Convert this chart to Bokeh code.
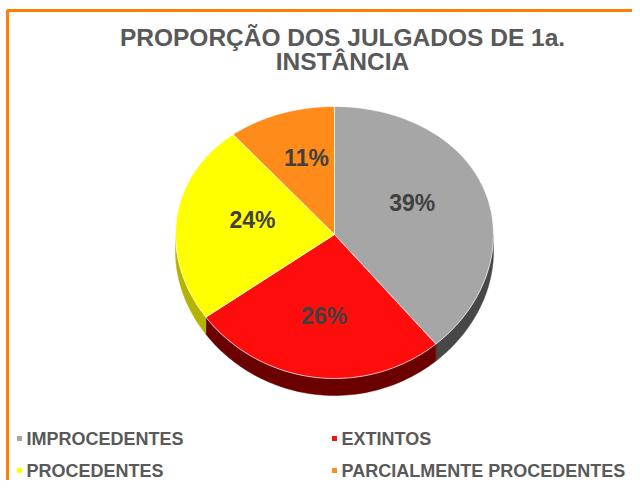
import numpy as np
from bokeh.plotting import figure
from bokeh.models import Range1d, ColumnDataSource
from bokeh.core.properties import value
from bokeh.embed import file_html
from bokeh.resources import INLINE

# ---- data ----
categories = ["IMPROCEDENTES", "EXTINTOS", "PROCEDENTES", "PARCIALMENTE PROCEDENTES"]
shares = [39, 26, 24, 11]
labels = ["39%", "26%", "24%", "11%"]
top_colors = ["#A6A6A6", "#FF0D0D", "#FFFF00", "#FF8C1A"]
side_colors = ["#474747", "#6A0000", "#B3B300", "#B35F00"]
title_lines = ["PROPORÇÃO DOS JULGADOS DE 1a.", "INSTÂNCIA"]

W, H = 632, 480
p = figure(width=W, height=H, x_range=Range1d(0, W), y_range=Range1d(H, 0),
           output_backend="svg", toolbar_location=None, min_border=0,
           x_axis_type=None, y_axis_type=None)
p.grid.visible = False
p.outline_line_color = None
p.background_fill_color = "white"
p.border_fill_color = "white"

# chart frame (top and left edges visible)
p.line([7, 7, W], [H, 10, 10], line_color="#FF8000", line_width=3)

# ---- pie geometry (pseudo 3D) ----
cx, cy = 334, 234
rx, ry, persp, depth = 159, 136, 8, 17


def pt(theta_deg, s=1.0):
    t = np.radians(theta_deg)
    x = cx + rx * s * np.sin(t)
    y = cy - s * (ry * np.cos(t) - persp * np.cos(t) ** 2)
    return x, y


total = float(sum(shares))
bounds = np.concatenate([[0], np.cumsum(shares)]) / total * 360.0

side_xs, side_ys, side_c = [], [], []
top_xs, top_ys = [], []
for i in range(len(shares)):
    a1, a2 = bounds[i], bounds[i + 1]
    # side (front half only: 90..270 deg clockwise from top)
    s1, s2 = max(a1, 90.0), min(a2, 270.0)
    if s2 > s1:
        th = np.linspace(s1, s2, 80)
        x, y = pt(th)
        side_xs.append(list(np.concatenate([x, x[::-1]])))
        side_ys.append(list(np.concatenate([y, (y + depth)[::-1]])))
        side_c.append(side_colors[i])
    th = np.linspace(a1, a2, 150)
    x, y = pt(th)
    top_xs.append([cx] + list(x))
    top_ys.append([cy] + list(y))

p.patches(xs="xs", ys="ys", fill_color="c", line_color="c", line_width=0.5,
          source=ColumnDataSource(dict(xs=side_xs, ys=side_ys, c=side_c)))
p.patches(xs="xs", ys="ys", fill_color="c", line_color="white", line_alpha=0.7,
          line_width=1,
          source=ColumnDataSource(dict(xs=top_xs, ys=top_ys, c=top_colors)))

# data labels
mids = (bounds[:-1] + bounds[1:]) / 2
lx = cx + rx * 0.52 * np.sin(np.radians(mids))
ly = cy - 0.6 * (ry * np.cos(np.radians(mids)) - persp * np.cos(np.radians(mids)) ** 2) - 4
p.text(x=list(lx), y=list(ly), text=labels, text_font=value("Liberation Sans"),
       text_font_style="bold", text_font_size="23px", text_color="#404040",
       text_align="center", text_baseline="middle")

# title
p.text(x=[342, 342], y=[37, 61], text=title_lines, text_font=value("Liberation Sans"),
       text_font_style="bold", text_font_size="24.5px", text_color="#595959",
       text_align="center", text_baseline="middle")

# legend (2 columns)
col_x = [19, 334]
row_y = [438, 470]
mx = [col_x[i % 2] for i in range(len(categories))]
my = [row_y[i // 2] for i in range(len(categories))]
p.rect(x=mx, y=my, width=5, height=5, fill_color=top_colors, line_color=None)
p.text(x=[v + 7 for v in mx], y=my, text=categories, text_font=value("Liberation Sans"),
       text_font_style="bold", text_font_size="18px", text_color="#595959",
       text_align="left", text_baseline="middle")

open("out.html", "w").write(file_html(p, INLINE))
